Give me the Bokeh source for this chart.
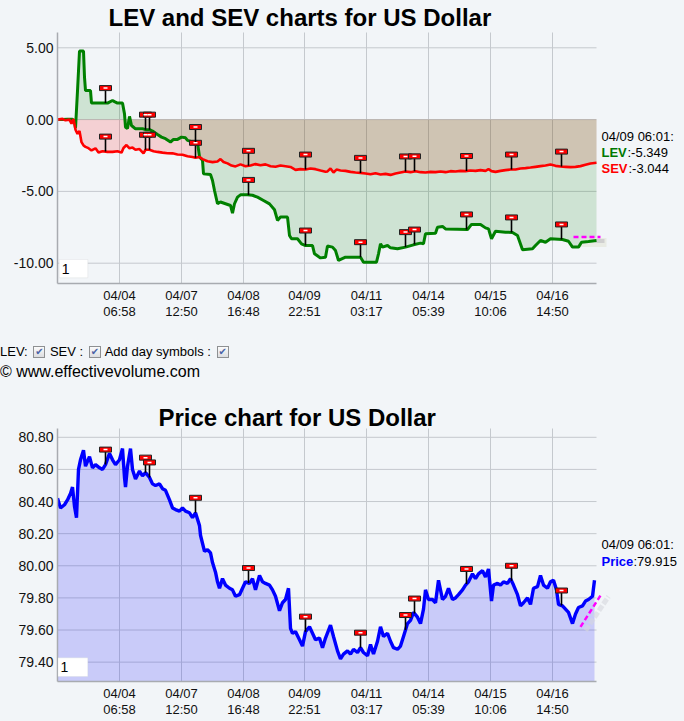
import numpy as np
from bokeh.plotting import figure
from bokeh.models import Range1d, FixedTicker, NumeralTickFormatter, Label, BoxAnnotation, Div
from bokeh.layouts import column
from bokeh.embed import file_html
from bokeh.resources import INLINE

FONT = "Liberation Sans"
BG = "#f2f5f8"
GRID = "#c5c9ce"

# ---------------- data ----------------
tick_pos = [62, 124, 186, 247, 309, 371, 433, 495]
tick_labels = ["04/04\n06:58", "04/07\n12:50", "04/08\n16:48", "04/09\n22:51",
               "04/11\n03:17", "04/14\n05:39", "04/15\n10:06", "04/16\n14:50"]
x_end = 539

lev_ticks = [-10, -5, 0, 5]
price_ticks = [79.4, 79.6, 79.8, 80.0, 80.2, 80.4, 80.6, 80.8]

lev_x = [0, 5, 10, 15, 17, 18, 20, 22, 26, 27,
         28, 33, 34, 40, 50, 55, 57, 60, 65, 67,
         68, 70, 72, 74, 78, 85, 88, 92, 95, 100,
         104, 108, 113, 116, 120, 124, 128, 130, 135, 140,
         142, 145, 146, 153, 155, 157, 160, 163, 168, 173,
         175, 177, 180, 183, 190, 195, 200, 206, 212, 217,
         220, 223, 230, 232, 234, 240, 244, 248, 255, 257,
         263, 268, 270, 275, 278, 281, 288, 300, 303, 306,
         315, 319, 321, 323, 325, 330, 333, 340, 348, 356,
         363, 366, 368, 378, 380, 385, 388, 400, 410, 414,
         423, 428, 431, 434, 438, 448, 455, 460, 465, 475,
         478, 483, 488, 493, 505, 511, 515, 521, 524, 531,
         539]
lev_y = [0.0, 0.0, 0.03, 0.02, -0.1, -0.6, 2.0, 4.77, 4.77, 2.96,
         2.02, 2.02, 1.15, 1.15, 1.15, 1.33, 1.25, 1.15, 1.15, 0.40,
         -0.53, -0.62, 0.22, -0.41, -0.64, -0.64, -0.7, -0.7, -0.8, -1.04,
         -1.22, -1.33, -1.56, -1.38, -1.38, -1.22, -1.27, -1.45, -1.55, -1.57,
         -2.6, -2.84, -3.78, -3.83, -4.24, -4.94, -5.86, -5.74, -5.86, -5.98,
         -6.52, -5.86, -5.4, -5.24, -5.24, -5.27, -5.4, -5.63, -5.87, -6.28,
         -7.02, -6.79, -6.79, -8.07, -8.3, -8.3, -8.65, -8.77, -8.77, -9.35,
         -9.63, -9.58, -8.8, -8.88, -9.12, -9.81, -9.58, -9.58, -9.58, -9.93,
         -9.93, -9.93, -9.35, -8.65, -8.88, -8.77, -8.93, -9.0, -8.88, -8.72,
         -8.6, -8.65, -7.95, -7.91, -7.49, -7.44, -7.61, -7.63, -7.65, -7.3,
         -7.3, -7.54, -7.61, -8.3, -7.77, -7.84, -7.86, -8.07, -9.07, -9.0,
         -8.77, -8.42, -8.54, -8.3, -8.35, -8.47, -8.88, -8.88, -8.54, -8.49,
         -8.42]

sev_x = [0, 5, 8, 12, 14, 16, 18, 20, 22, 24, 26, 28, 31, 34, 38, 41, 45, 50, 55, 60,
         64, 66, 69, 72, 75, 78, 82, 86, 88, 92, 96, 100, 105, 110, 115, 120, 125, 130, 135, 138,
         142, 145, 150, 155, 160, 163, 166, 170, 174, 178, 183, 188, 193, 198, 203, 208, 213, 218, 223, 228,
         233, 238, 243, 248, 253, 258, 263, 268, 270, 273, 276, 279, 283, 288, 293, 298, 303, 308, 313, 318,
         323, 328, 333, 338, 343, 348, 353, 358, 363, 368, 373, 378, 383, 388, 393, 398, 403, 408, 413, 418,
         423, 428, 431, 434, 438, 443, 448, 453, 458, 463, 468, 473, 478, 483, 488, 493, 498, 503, 508, 513,
         518, 523, 528, 533, 539]
sev_y = [0.0, 0.05, -0.05, 0.0, -0.29, 0.05, -0.71, -0.99, -0.8, -1.57, -1.8, -1.9, -1.99, -2.15, -2.0, -2.29, -2.2, -2.25, -2.25, -2.2,
         -2.3, -1.98, -1.77, -2.0, -1.95, -2.1, -2.05, -2.35, -2.1, -2.1, -2.2, -2.25, -2.3, -2.34, -2.35, -2.43, -2.45, -2.55, -2.6, -2.66,
         -2.6, -2.75, -2.9, -2.96, -2.92, -2.75, -2.95, -3.05, -3.2, -3.26, -3.12, -3.25, -3.2, -3.1, -3.18, -3.12, -3.25, -3.28, -3.2, -3.25,
         -3.3, -3.5, -3.45, -3.48, -3.4, -3.45, -3.55, -3.63, -3.61, -3.40, -3.68, -3.48, -3.54, -3.57, -3.64, -3.68, -3.71, -3.75, -3.80, -3.73,
         -3.82, -3.78, -3.85, -3.75, -3.68, -3.61, -3.66, -3.59, -3.66, -3.68, -3.64, -3.66, -3.61, -3.66, -3.59, -3.61, -3.57, -3.59, -3.54, -3.57,
         -3.52, -3.57, -3.45, -3.59, -3.64, -3.57, -3.52, -3.48, -3.48, -3.40, -3.38, -3.34, -3.29, -3.24, -3.20, -3.13, -3.22, -3.27, -3.29, -3.31,
         -3.29, -3.24, -3.15, -3.06, -3.01]

price_x = [0, 3, 7, 10, 13, 15, 17, 19, 21, 23, 26, 28, 32, 35, 38, 42, 45, 48, 52, 55,
           58, 62, 65, 67, 68, 70, 73, 75, 78, 82, 85, 88, 92, 95, 98, 102, 105, 108, 112, 115,
           118, 122, 125, 128, 132, 135, 138, 142, 143, 147, 150, 153, 155, 158, 160, 162, 165, 168, 172, 175,
           178, 182, 185, 188, 192, 195, 198, 202, 205, 208, 212, 215, 218, 222, 225, 228, 231, 233, 235, 238,
           242, 245, 248, 252, 255, 258, 262, 265, 268, 273, 276, 280, 283, 286, 290, 293, 296, 300, 303, 306,
           310, 313, 316, 320, 323, 326, 330, 333, 336, 340, 343, 346, 350, 353, 356, 360, 363, 366, 368, 371,
           375, 378, 381, 385, 388, 391, 395, 398, 401, 405, 408, 411, 415, 418, 421, 425, 428, 431, 434, 436,
           440, 443, 446, 450, 453, 456, 460, 463, 466, 470, 473, 476, 480, 483, 486, 490, 493, 496, 499, 501,
           505, 508, 511, 515, 518, 521, 525, 528, 531, 535, 537]
price_y = [80.42, 80.36, 80.38, 80.41, 80.45, 80.49, 80.37, 80.30, 80.60, 80.66, 80.72, 80.62, 80.68, 80.61, 80.63, 80.61, 80.60, 80.63, 80.70, 80.66,
           80.63, 80.66, 80.73, 80.55, 80.49, 80.62, 80.73, 80.60, 80.54, 80.59, 80.56, 80.58, 80.55, 80.51, 80.50, 80.51, 80.48, 80.47, 80.41, 80.36,
           80.35, 80.34, 80.36, 80.34, 80.33, 80.30, 80.33, 80.25, 80.19, 80.09, 80.10, 80.08, 80.02, 79.96, 79.90, 79.86, 79.92, 79.88, 79.86, 79.85,
           79.81, 79.82, 79.86, 79.90, 79.89, 79.92, 79.85, 79.94, 79.90, 79.89, 79.88, 79.85, 79.81, 79.72, 79.77, 79.79, 79.86, 79.61, 79.58, 79.59,
           79.54, 79.50, 79.59, 79.62, 79.58, 79.54, 79.55, 79.49, 79.55, 79.63, 79.56, 79.47, 79.42, 79.45, 79.47, 79.45, 79.48, 79.46, 79.49, 79.46,
           79.44, 79.51, 79.45, 79.53, 79.62, 79.56, 79.58, 79.53, 79.49, 79.48, 79.50, 79.56, 79.64, 79.66, 79.71, 79.68, 79.64, 79.73, 79.85, 79.79,
           79.79, 79.77, 79.91, 79.79, 79.81, 79.86, 79.79, 79.80, 79.82, 79.85, 79.88, 79.90, 79.95, 79.92, 79.95, 79.97, 79.93, 79.98, 79.78, 79.88,
           79.89, 79.88, 79.90, 79.89, 79.92, 79.88, 79.82, 79.75, 79.77, 79.80, 79.76, 79.86, 79.87, 79.94, 79.88, 79.86, 79.90, 79.91, 79.85, 79.76,
           79.75, 79.73, 79.71, 79.64, 79.70, 79.74, 79.75, 79.78, 79.79, 79.81, 79.91]

day_x = [48, 88, 92, 138, 191, 248, 303, 348, 357, 409, 454, 504]

lev_fc_x = [516, 543]
lev_fc_y = [-8.18, -8.18]
price_fc_x = [523, 543]
price_fc_y = [79.62, 79.815]

assert len(lev_x) == len(lev_y) and len(sev_x) == len(sev_y) and len(price_x) == len(price_y)

# ---------------- layout constants (page pixels) ----------------
FRAME_L = 57          # page x of the plot's left edge (y axis)
FW = 627              # frame spans to the right edge so side texts are not clipped

P1_BOTTOM = 283       # x-axis line, page y
P1_GRID_TOP = 32
PPU1 = 14.36          # px per unit
ZERO1 = 119.1         # page y of value 0


def v1(page_y):
    return (ZERO1 - page_y) / PPU1


P2_TOP = 383          # page y where the price figure starts
P2_BOTTOM = 681
P2_GRID_TOP = 428
PPU2 = 160.6
REF2 = 436.8          # page y of 80.80


def v2(page_y):
    return 80.80 - (page_y - REF2) / PPU2


def px(page_x):
    return page_x - FRAME_L


def style(p, yticks, y_lo, y_hi):
    p.background_fill_color = BG
    p.border_fill_color = BG
    p.outline_line_color = None
    p.grid.grid_line_color = None
    p.xaxis.ticker = FixedTicker(ticks=tick_pos)
    p.xaxis.major_label_overrides = {t: l for t, l in zip(tick_pos, tick_labels)}
    p.xaxis.bounds = (0, x_end)
    p.yaxis.ticker = FixedTicker(ticks=yticks)
    p.yaxis.formatter = NumeralTickFormatter(format="0.00")
    p.yaxis.bounds = (y_lo, y_hi)
    for ax in p.axis:
        ax.axis_line_color = "#a8abb0"
        ax.axis_line_width = 1.5
        ax.major_tick_line_color = None
        ax.minor_tick_line_color = None
        ax.major_tick_out = 0
        ax.major_tick_in = 0
        ax.minor_tick_out = 0
        ax.major_label_text_font = FONT
        ax.major_label_text_color = "#111111"
        ax.major_label_standoff = 4
    p.xaxis.major_label_text_font_size = "13px"
    p.xaxis.major_label_text_line_height = 1.08
    p.yaxis.major_label_text_font_size = "14px"
    # grid lines limited to the plotting area
    p.segment(x0=0, x1=x_end, y0=yticks, y1=yticks, line_color=GRID, line_width=1)
    p.segment(x0=tick_pos, x1=tick_pos, y0=y_lo, y1=y_hi, line_color=GRID, line_width=1)


def day_symbols(p, xs, ys, ppu):
    xs = np.asarray(xs, dtype=float)
    ys = np.asarray(ys, dtype=float)
    top = ys + 15.0 / ppu
    p.segment(x0=xs, y0=ys, x1=xs, y1=top, line_color="black", line_width=1.6)
    p.rect(x=xs, y=top, width=12, height=5, width_units="screen", height_units="screen",
           fill_color="#ff0000", line_color="#222222", line_width=1)
    p.rect(x=xs, y=top, width=4, height=1.5, width_units="screen", height_units="screen",
           fill_color="white", line_color=None)


def text(p, x, y, s, size="13px", color="black", bold=False):
    p.add_layout(Label(x=x, y=y, text=s, text_font=FONT, text_font_size=size,
                       text_font_style="bold" if bold else "normal",
                       text_baseline="middle", text_color=color))


def input_box(p, left, right, top, bottom, ytext):
    p.add_layout(BoxAnnotation(left=left, right=right, top=top, bottom=bottom,
                               fill_color="white", fill_alpha=1.0,
                               line_color="#d2d4d8", line_width=1))
    text(p, left + 2.5, ytext, "1", size="14px")


# ---------------- LEV / SEV chart ----------------
Y1_TOP, Y1_BOT = v1(0), v1(P1_BOTTOM)
p1 = figure(frame_width=FW, frame_height=P1_BOTTOM, x_range=Range1d(0, FW), y_range=Range1d(Y1_BOT, Y1_TOP),
            min_border_left=FRAME_L, min_border_right=0, min_border_top=0, min_border_bottom=52,
            output_backend="svg", toolbar_location=None)
style(p1, lev_ticks, Y1_BOT, v1(P1_GRID_TOP))

p1.varea(x=sev_x, y1=0, y2=sev_y, fill_color="#ff0000", fill_alpha=0.15)
p1.varea(x=lev_x, y1=0, y2=lev_y, fill_color="#008000", fill_alpha=0.15)
p1.line([523, 549], [v1(242), v1(242)], line_color="#e6e8de", line_width=9, line_alpha=0.8)
p1.line([538, 547], [v1(240.5), v1(240.5)], line_color="#cfcfcf", line_width=4)
p1.line(lev_x, lev_y, line_color="#008000", line_width=3)
p1.line(sev_x, sev_y, line_color="#ff0000", line_width=2.6)
p1.line(lev_fc_x, lev_fc_y, line_color="#ff00ff", line_width=2.5, line_dash="5 3")

day_symbols(p1, day_x, np.interp(day_x, sev_x, sev_y), PPU1)
day_symbols(p1, day_x, np.interp(day_x, lev_x, lev_y), PPU1)

text(p1, px(108), v1(17), "LEV and SEV charts for US Dollar", size="24px", bold=True)
text(p1, px(601), v1(135.5), "04/09 06:01:")
text(p1, px(601), v1(152), "LEV", color="#007800", bold=True)
text(p1, px(627), v1(152), ":-5.349")
text(p1, px(601), v1(168), "SEV", color="#ff0000", bold=True)
text(p1, px(628), v1(168), ":-3.044")
input_box(p1, px(58.7), px(87.3), v1(259), v1(277.3), v1(268.5))

# ---------------- middle controls ----------------
cb = ('<span style="display:inline-block;width:12px;height:12px;border:1px solid #8e9092;'
      'background:linear-gradient(#fbfbfb,#dcdde0);box-sizing:border-box;vertical-align:-2px;'
      'margin:0 1px 0 2px;position:relative;">'
      '<span style="position:absolute;left:1px;top:-1px;font-size:10px;line-height:12px;'
      'color:#4a62a6;font-family:\'DejaVu Sans\'">&#10004;</span></span>')
html = ('<div style="width:684px;font-family:\'Liberation Sans\',Arial,sans-serif;color:#000">'
        '<div style="font-size:13px;line-height:20px;margin-top:7px;white-space:nowrap">'
        f'LEV: {cb} SEV : {cb} Add day symbols : {cb}</div>'
        '<div style="font-size:16px;line-height:20px;white-space:nowrap">&copy; www.effectivevolume.com</div></div>')
div = Div(text=html, width=684, height=48, margin=(0, 0, 0, 0))

# ---------------- Price chart ----------------
Y2_TOP, Y2_BOT = v2(P2_TOP), v2(P2_BOTTOM)
p2 = figure(frame_width=FW, frame_height=P2_BOTTOM - P2_TOP, x_range=Range1d(0, FW), y_range=Range1d(Y2_BOT, Y2_TOP),
            min_border_left=FRAME_L, min_border_right=0, min_border_top=0, min_border_bottom=40,
            output_backend="svg", toolbar_location=None)
style(p2, price_ticks, Y2_BOT, v2(P2_GRID_TOP))

p2.varea(x=price_x, y1=Y2_BOT - 1, y2=price_y, fill_color="#0000ff", fill_alpha=0.17)
p2.line(price_x, price_y, line_color="#0000ff", line_width=3.4)
p2.line([528, 551], [v2(630), v2(596)], line_color="#d6d7de", line_width=5, line_alpha=0.6,
        line_dash="6 2")
p2.line(price_fc_x, price_fc_y, line_color="#ff00ff", line_width=2.5, line_dash="5 3")
day_symbols(p2, day_x, np.interp(day_x, price_x, price_y), PPU2)

text(p2, px(158), v2(417), "Price chart for US Dollar", size="24px", bold=True)
text(p2, px(601), v2(543.5), "04/09 06:01:")
text(p2, px(601), v2(561), "Price", color="#0000ff", bold=True)
text(p2, px(633), v2(561), ":79.915")
input_box(p2, px(57.5), px(87.3), v2(657.3), v2(676), v2(666.5))

layout = column(p1, div, p2, spacing=0)

open("out.html", "w").write(file_html(layout, INLINE).replace(
    "</head>", "<style>html,body{background:#f2f5f8;}</style></head>"))
